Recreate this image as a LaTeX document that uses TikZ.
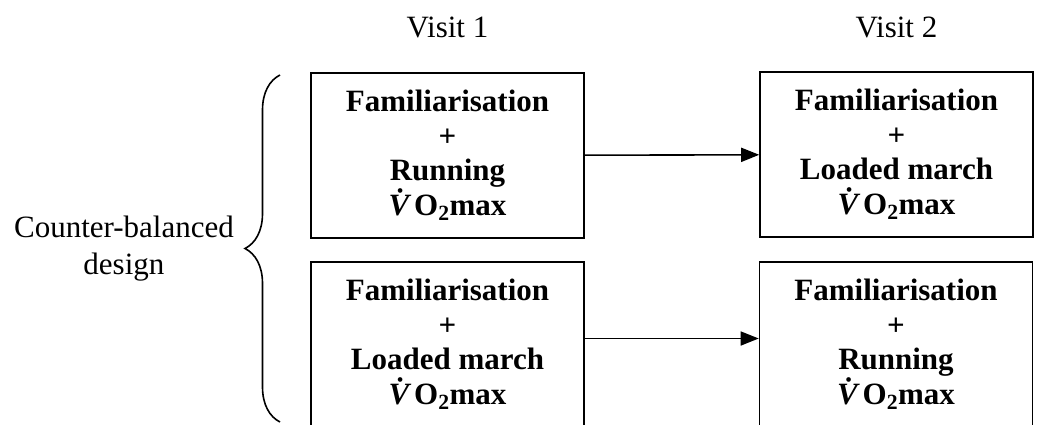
\documentclass[tikz,border=0pt]{standalone}
\usepackage{fontspec}
\setmainfont{Liberation Serif}
\usetikzlibrary{positioning,arrows.meta,decorations.pathreplacing}

\newcommand{\vomax}{\textit{\.{V}}O\textsubscript{2}max}

\begin{document}
\begin{tikzpicture}[x=1pt,y=1pt,
  visit/.style={draw, line width=1.6pt, minimum width=273pt, minimum height=165pt,
    align=center, inner sep=0pt, font=\fontsize{31}{34.5}\selectfont\bfseries},
  lbl/.style={font=\fontsize{31}{37}\selectfont, align=center, inner sep=0pt},
  flow/.style={line width=1.6pt, -{Triangle[length=18pt,width=14pt]}}]
  \useasboundingbox (0,0) rectangle (1040,424);
  % the four test sessions
  \node[visit] (run1) at (447.5,268.5) {Familiarisation\\+\\Running\\\vomax};
  \node[visit] (march2) at (896.5,269.5) {Familiarisation\\+\\Loaded march\\\vomax};
  \node[visit] (march1) at (447.5,79.5) {Familiarisation\\+\\Loaded march\\\vomax};
  \node[visit] (run2) at (896,79.5) {Familiarisation\\+\\Running\\\vomax};
  % column headings
  \node[lbl, anchor=base] (visit1) at ([yshift=35pt]run1.north) {Visit 1};
  \node[lbl, anchor=base] (visit2) at ([yshift=34pt]march2.north) {Visit 2};
  \draw[flow] (run1) -- (march2);
  \draw[flow] ([yshift=6pt]march1.east) -- ([yshift=6pt]run2.west);
  % brace over both orders
  \draw[line width=1.6pt, decorate, decoration={brace,amplitude=35pt}] (280,2) -- (280,349);
  \coordinate (tip) at (245,175.5);
  \node[lbl, anchor=east] (design) at ([xshift=-11pt]tip) {Counter-balanced\\design};
\end{tikzpicture}
\end{document}
